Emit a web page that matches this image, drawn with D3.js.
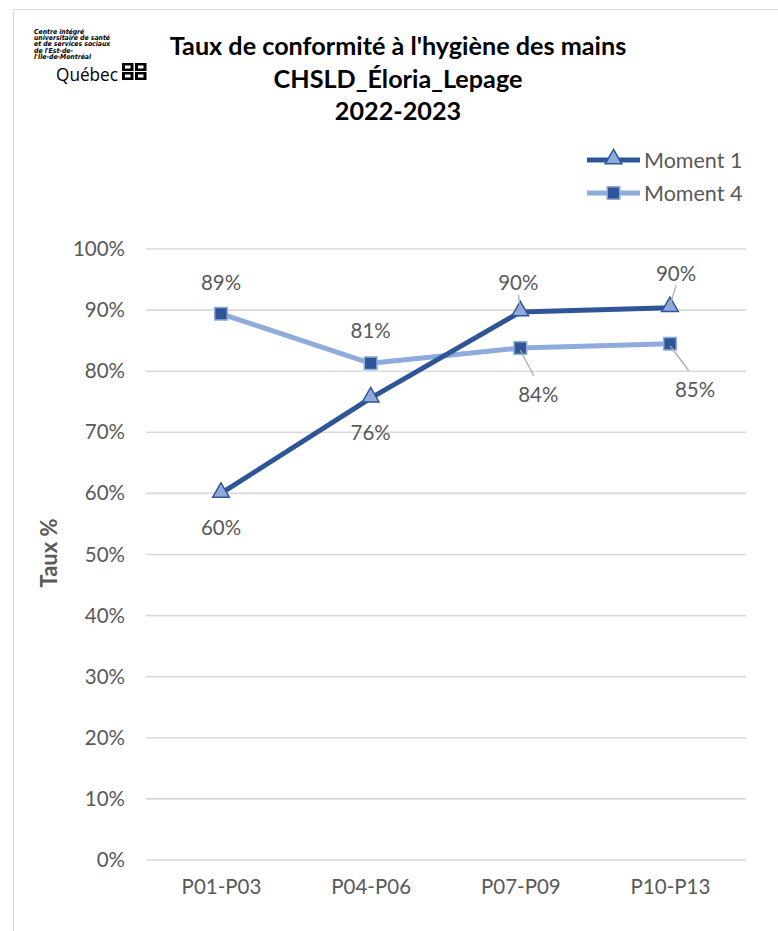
<!DOCTYPE html>
<html>
<head>
<meta charset="utf-8">
<script src="https://cdn.jsdelivr.net/npm/d3@7"></script>
<style>
  html, body { margin: 0; padding: 0; background: #fff; }
  svg { display: block; font-family: Lato, "Open Sans", sans-serif; }
</style>
</head>
<body>
<svg id="chart" width="778" height="931"></svg>
<script>
const categories = ["P01-P03", "P04-P06", "P07-P09", "P10-P13"];
const moment1 = [0.60, 0.756, 0.897, 0.904];
const moment4 = [0.894, 0.813, 0.838, 0.845];
const yTicks = [0, 0.1, 0.2, 0.3, 0.4, 0.5, 0.6, 0.7, 0.8, 0.9, 1.0];
const titleLines = ["Taux de conformité à l'hygiène des mains", "CHSLD_Éloria_Lepage", "2022-2023"];
const seriesNames = ["Moment 1", "Moment 4"];
const logoLines = ["Centre intégré", "universitaire de santé", "et de services sociaux", "de l'Est-de-", "l'Île-de-Montréal"];

const svg = d3.select("#chart");
const dark = "#2F5597", light = "#8FAADC", grid = "#D9D9D9", txt = "#595959";
const fs = 20.5;

// frame
svg.append("path").attr("d", "M13.5,931 V9.5 H778").attr("fill", "none").attr("stroke", "#D9D9D9").attr("stroke-width", 1);

// logo
const logo = svg.append("g").attr("transform", "translate(34,34)");
logoLines.forEach((t, i) => {
  logo.append("text").attr("x", 0).attr("y", i * 6.2).attr("font-size", 6.8)
    .attr("font-weight", 700).attr("font-style", "italic").attr("fill", "#000")
    .attr("font-family", "'DejaVu Sans Condensed', sans-serif").text(t);
});
logo.append("text").attr("x", 22).attr("y", 47).attr("font-size", 19)
  .attr("fill", "#000").attr("font-family", "'Open Sans', sans-serif")
  .attr("textLength", 62).attr("lengthAdjust", "spacingAndGlyphs").text("Québec");
[[0,0],[13,0],[0,9],[13,9]].forEach(([dx, dy]) => {
  logo.append("rect").attr("x", 88 + dx).attr("y", 29 + dy).attr("width", 11.5).attr("height", 8).attr("fill", "#000");
  logo.append("rect").attr("x", 91 + dx).attr("y", 31.5 + dy).attr("width", 5.5).attr("height", 3).attr("fill", "#fff");
});

// title
titleLines.forEach((t, i) => {
  svg.append("text").attr("x", 398).attr("y", 55 + i * 32.5).attr("text-anchor", "middle")
    .attr("font-size", 25.2).attr("font-weight", 700).attr("fill", "#000").text(t);
});

const x = d3.scalePoint().domain(categories).range([221, 670]);
const y = d3.scaleLinear().domain([0, 1]).range([860, 249]);

// gridlines
svg.append("g").selectAll("line").data(yTicks).join("line")
  .attr("x1", 146).attr("x2", 746).attr("y1", d => y(d)).attr("y2", d => y(d))
  .attr("stroke", grid).attr("stroke-width", 1.6);

// y axis labels
const yAxis = d3.axisLeft(y).tickValues(yTicks).tickFormat(d3.format(".0%")).tickSize(0).tickPadding(0);
const gy = svg.append("g").attr("transform", "translate(125,0)").call(yAxis);
gy.select(".domain").remove();
gy.selectAll("text").attr("font-size", fs).attr("fill", txt).attr("font-family", "Lato, sans-serif");

// x axis labels
const xAxis = d3.axisBottom(x).tickSize(0).tickPadding(0);
const gx = svg.append("g").attr("transform", "translate(0,879)").call(xAxis);
gx.select(".domain").remove();
gx.selectAll("text").attr("font-size", fs).attr("fill", txt).attr("font-family", "Lato, sans-serif");

// y title
svg.append("text").attr("transform", "translate(57,553) rotate(-90)").attr("text-anchor", "middle")
  .attr("font-size", 22).attr("font-weight", 700).attr("fill", txt).text("Taux %");

const line = d3.line().x((d, i) => x(categories[i])).y(d => y(d));

// Moment 4
svg.append("path").datum(moment4).attr("d", line).attr("fill", "none").attr("stroke", light)
  .attr("stroke-width", 5).attr("stroke-linejoin", "round");
// Moment 1
svg.append("path").datum(moment1).attr("d", line).attr("fill", "none").attr("stroke", dark)
  .attr("stroke-width", 5).attr("stroke-linejoin", "round");

const tri = d3.symbol().type(d3.symbolTriangle).size(120);
const sq = d3.symbol().type(d3.symbolSquare).size(160);

svg.append("g").selectAll("path").data(moment4).join("path")
  .attr("d", sq).attr("transform", (d, i) => `translate(${x(categories[i])},${y(d)})`)
  .attr("fill", dark).attr("stroke", light).attr("stroke-width", 1.5);
svg.append("g").selectAll("path").data(moment1).join("path")
  .attr("d", tri).attr("transform", (d, i) => `translate(${x(categories[i])},${y(d) - 1})`)
  .attr("fill", light).attr("stroke", dark).attr("stroke-width", 1.5);

// data labels: offsets [dx, dy] from marker, leader flag
const m1Off = [[0, 35, false], [0, 35, false], [-2, -29, true], [6, -34, true]];
const m4Off = [[0, -31, false], [0, -32, false], [18, 47, true], [25, 46, true]];
function labels(data, offs) {
  data.forEach((d, i) => {
    const px = x(categories[i]), py = y(d);
    const [dx, dy, leader] = offs[i];
    if (leader) {
      const sy = dy > 0 ? 1 : -1;
      svg.append("line").attr("x1", px).attr("y1", py + sy * 2)
        .attr("x2", px + dx * (dy > 0 ? 0.75 : 1)).attr("y2", py + dy - sy * (dy > 0 ? 19 : 12))
        .attr("stroke", "#A6A6A6").attr("stroke-width", 1.2);
    }
    svg.append("text").attr("x", px + dx).attr("y", py + dy + 7).attr("text-anchor", "middle")
      .attr("font-size", fs).attr("fill", txt).text(d3.format(".0%")(d));
  });
}
labels(moment1, m1Off);
labels(moment4, m4Off);

// legend
const leg = [[seriesNames[0], dark, light, tri, 160], [seriesNames[1], light, dark, sq, 193]];
leg.forEach(([name, lc, mc, sym, ly]) => {
  svg.append("line").attr("x1", 587).attr("x2", 640).attr("y1", ly).attr("y2", ly)
    .attr("stroke", lc).attr("stroke-width", 5);
  svg.append("path").attr("d", sym).attr("transform", `translate(613.5,${ly - (sym === tri ? 1 : 0)})`)
    .attr("fill", mc).attr("stroke", lc).attr("stroke-width", 1.5);
  svg.append("text").attr("x", 644).attr("y", ly + 7.5).attr("font-size", 21.5).attr("fill", txt).text(name);
});
</script>
</body>
</html>
